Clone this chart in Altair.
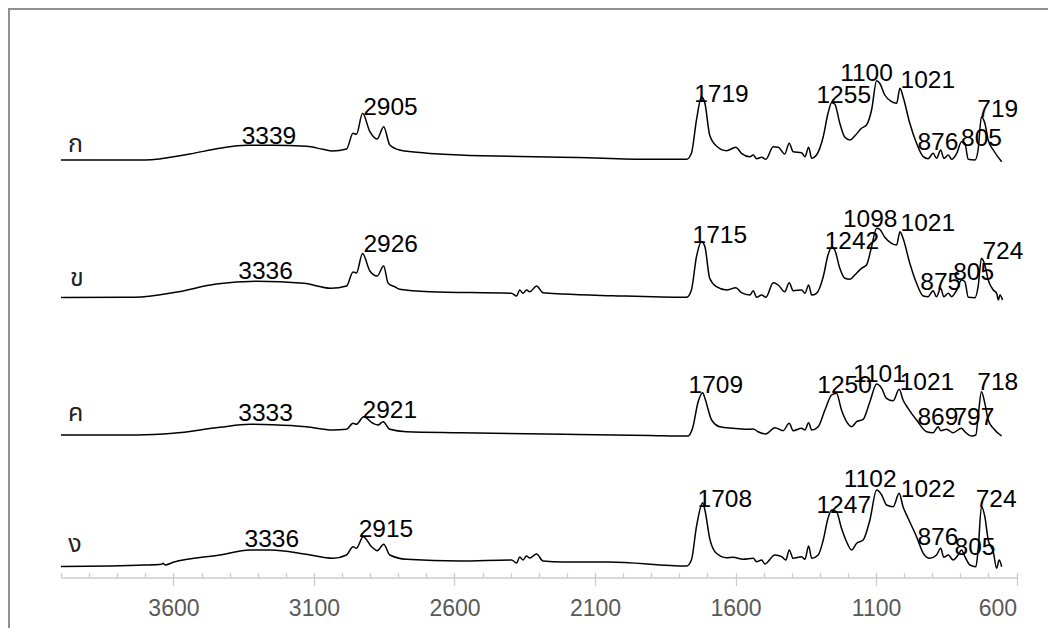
import altair as alt
import pandas as pd

# ---------------- data ----------------
samples = ["ก", "ข", "ค", "ง"]
offsets = [468, 330.5, 193, 62]          # vertical stacking offset of each spectrum

wn_a = [4000,3702,3542,3435,3340,3247,3127,3068,3034,2984,2961,2949,2927,2901,2875,2852,2830,2795,2713,2581,
        2161,1905,1774,1757,1739,1721,1709,1692,1668,1632,1599,1579,1549,1537,1525,1507,1492,1466,1448,1425,
        1409,1395,1365,1353,1340,1329,1312,1288,1271,1258,1247,1229,1211,1193,1176,1152,1134,1116,1098,1087,
        1069,1045,1027,1015,1004,980,956,932,915,897,885,870,859,843,831,813,796,784,772,748,737,725,713,701,683,653]
h_a = [0,0,6,11.7,14.7,14.7,13.7,10.7,9,11,26.7,25.7,46.7,28.3,21,33.3,15,10,7.3,5,
       2.5,0.7,0.7,6.7,40,63.3,56.7,25,14,9.3,12.7,6.7,3.3,5,1.3,2.7,0.7,13.3,12.7,6,
       16.7,8.3,7.3,3.3,12.7,1.7,5,23.3,46.7,57.3,56,36.7,22.7,20,24,31.7,35,50,79.3,76.7,
       65,58.3,56.7,71.7,63.3,36.7,16.7,3.3,1.3,6.7,1.7,10,1.7,5,0.7,6.7,18.3,16.7,0.7,0,10,43.3,36.7,20,10,-1.7]

wn_b = [4000,3738,3593,3448,3304,3136,3040,2984,2961,2949,2927,2901,2875,2852,2836,2811,2795,2688,2397,2379,
        2368,2356,2344,2332,2308,2285,2214,2036,1774,1757,1739,1721,1709,1692,1668,1632,1599,1579,1549,1537,
        1525,1507,1492,1466,1448,1425,1409,1395,1365,1353,1340,1329,1312,1288,1271,1258,1247,1229,1211,1193,
        1176,1152,1134,1116,1098,1087,1069,1045,1027,1015,1004,980,956,932,915,897,885,870,859,843,
        831,813,796,784,772,748,737,725,713,701,683,671,665,659,650]
h_b = [0,0.3,5.2,13.4,16.2,14.2,9.3,11.5,25.6,24.5,44,26.5,21.5,31.5,14.2,10.5,8.2,5.8,4.2,1.5,
       7.5,4.2,7.5,5.8,11.5,4.8,3.5,1.8,0.2,7.5,40.8,55.8,50.8,19.2,10.8,7.5,9.8,4.8,2.5,6.8,
       0.2,2.5,0.2,14.8,12.5,5.8,14.8,6.8,7.5,4.2,12.5,2.5,4.2,20.8,42.5,50.2,47.5,29.2,19.2,18.2,
       22.5,29.2,32.5,50.8,69.2,68.2,60.2,54.2,52.5,65.8,59.2,34.2,14.2,1.5,0.8,6.8,0.8,9.2,0.8,4.2,
       0.8,7.5,17.5,15.8,0.2,-0.2,10.8,39.2,32.5,17.5,7.5,4.2,-2.5,2.5,-2.5]

wn_c = [4000,3732,3601,3435,3328,3247,3127,3034,2984,2961,2949,2923,2890,2872,2854,2830,2771,2581,2161,1905,
        1769,1753,1733,1717,1709,1685,1656,1609,1561,1537,1520,1492,1460,1431,1409,1395,1365,1353,1340,1329,
        1306,1282,1258,1241,1223,1205,1187,1169,1146,1122,1098,1080,1063,1039,1018,1004,986,956,920,897,
        879,870,849,826,796,784,760,745,737,725,713,701,683,653]
h_c = [0,0,1.7,7.7,10.7,10.3,8.3,5,5.7,11.7,10.7,18.3,11.7,10,13.3,5.7,3.3,2.3,0.5,-0.5,
       -1,6.7,33.3,42.3,36.7,15,8.3,6.7,5.7,6,3.3,1,7.3,4.3,11.7,4.3,6.7,5,12.3,5,
       8.3,25,40,41.7,25,13.3,8.3,13.3,15.7,33.3,51,46.7,36.7,34.3,45.7,35,26.7,15,3.3,2.3,
       8.3,4.3,5.7,2.3,6.7,3.3,-1,0,18.3,43.3,31.7,15,6.7,-1]

wn_d = [4000,3702,3642,3637,3630,3601,3435,3328,3254,3127,3032,2984,2961,2949,2925,2895,2875,2852,2830,2771,
        2581,2397,2379,2368,2356,2344,2332,2308,2285,2214,2053,1774,1757,1739,1717,1709,1692,1668,1632,1609,
        1573,1537,1525,1507,1496,1460,1436,1421,1409,1395,1365,1353,1340,1329,1306,1288,1271,1258,1241,1223,
        1205,1187,1169,1146,1122,1098,1080,1063,1039,1018,1004,986,956,932,909,885,870,859,843,826,
        808,796,784,766,745,737,725,713,701,683,671,662,653]
h_d = [-0.5,1,1.8,2.7,1,3.7,11,16,16,11.7,7.7,11,19.3,17.7,29.3,19.3,15.3,21.7,11,6.7,
       5,6,3,9,6,10,8,12,5,4,4,0,6,39.3,63.3,56,27.7,12.7,8.3,8.7,
       6.7,7.7,4.3,6,2,11,9.3,6,16,7.7,9.3,6.7,20,7.7,11,26,47.7,56,54.3,37.7,
       24.3,16,22.7,26,46,76,71,61,59.3,72.7,59.3,47.7,29.3,12.7,7.7,11,17.7,8.7,11,6,
       11,16,9.3,1,-0.7,16,59.3,49.3,26,14.3,-2.3,6,-0.7]

# peak annotations (text, wavenumber of label centre, height of label baseline above spectrum baseline)
lab_a_text = ["3339", "2905", "1719", "1255", "1100", "1021", "876", "805", "719"]
lab_a_wn = [3260, 2828, 1650, 1215, 1134, 916, 880, 725, 667]
lab_a_h = [16, 45, 58.3, 56.7, 79.3, 71.7, 10, 14, 43.3]

lab_b_text = ["3336", "2926", "1715", "1242", "1098", "1021", "875", "805", "724"]
lab_b_wn = [3272, 2827, 1656, 1186, 1121, 916, 870, 753, 649]
lab_b_h = [18.3, 45.3, 54.8, 48.2, 70.2, 66.8, 7.5, 17.5, 38.2]

lab_c_text = ["3333", "2921", "1709", "1250", "1101", "1021", "869", "797", "718"]
lab_c_wn = [3272, 2830, 1670, 1212, 1088, 919, 880, 752, 667]
lab_c_h = [14.3, 16.7, 42.3, 41.7, 53.3, 45, 10, 10, 45]

lab_d_text = ["3336", "2915", "1708", "1247", "1102", "1022", "876", "805", "724"]
lab_d_wn = [3250, 2844, 1638, 1215, 1121, 915, 880, 748, 673]
lab_d_h = [19.3, 28.7, 59.3, 53.3, 79.3, 69.3, 21, 11, 59.3]

name_wn = [3948, 3944, 3948, 3950]
name_h = [8, 11.5, 14, 14]

major_ticks = [3600, 3100, 2600, 2100, 1600, 1100, 600]
minor_ticks = list(range(4000, 599, -100))

# ---------------- tables ----------------
spec_rows = []
for s, off, w, h in zip(samples, offsets, [wn_a, wn_b, wn_c, wn_d], [h_a, h_b, h_c, h_d]):
    spec_rows.append(pd.DataFrame({"sample": s, "wn": w, "y": [off + v for v in h]}))
spec = pd.concat(spec_rows, ignore_index=True)

lab_rows = []
for s, off, t, w, h in zip(samples, offsets,
                           [lab_a_text, lab_b_text, lab_c_text, lab_d_text],
                           [lab_a_wn, lab_b_wn, lab_c_wn, lab_d_wn],
                           [lab_a_h, lab_b_h, lab_c_h, lab_d_h]):
    lab_rows.append(pd.DataFrame({"sample": s, "label": t, "wn": w, "y": [off + v for v in h]}))
labels = pd.concat(lab_rows, ignore_index=True)

names = pd.DataFrame({"sample": samples, "wn": name_wn,
                      "y": [o + v for o, v in zip(offsets, name_h)]})
one = pd.DataFrame({"a": [0]})

# ---------------- chart ----------------
W, H = 1040, 620
xscale = alt.Scale(domain=[600, 4000], range=[1008.6, 53], nice=False, zero=False)
yscale = alt.Scale(domain=[0, H], nice=False, zero=False)

bottom_axis = alt.Axis(orient="bottom", offset=-50.5, values=major_ticks, format="d",
                       tickSize=8, tickColor="#cccccc", tickWidth=1.3,
                       domainColor="#cccccc", domainWidth=1.3,
                       labelFont="Liberation Sans", labelFontSize=23, labelColor="#595959",
                       labelPadding=12, title=None, grid=False)
top_axis = alt.Axis(orient="top", offset=-569.5, values=minor_ticks, tickSize=5,
                    tickColor="#cccccc", tickWidth=1.3, labels=False, domain=False,
                    title=None, grid=False)

lines = alt.Chart(spec).mark_line(color="black", strokeJoin="round", interpolate="monotone").encode(
    x=alt.X("wn:Q", scale=xscale, axis=bottom_axis),
    y=alt.Y("y:Q", scale=yscale, axis=None),
    detail="sample:N",
    strokeWidth=alt.StrokeWidth("sample:N", scale=alt.Scale(domain=samples, range=[1.5, 1.5, 1.5, 2.0]),
                                legend=None),
)

peaks = alt.Chart(labels).mark_text(font="Liberation Sans", fontSize=24.5, color="black",
                                    align="center", baseline="alphabetic").encode(
    x=alt.X("wn:Q", scale=xscale, axis=top_axis),
    y=alt.Y("y:Q", scale=yscale, axis=None),
    text="label:N",
)

name_marks = alt.Chart(names).mark_text(font="Noto Sans Thai, Noto Sans, DejaVu Sans, sans-serif",
                                        fontSize=25, color="#222222",
                                        align="center", baseline="alphabetic").encode(
    x=alt.X("wn:Q", scale=xscale, axis=None),
    y=alt.Y("y:Q", scale=yscale, axis=None),
    text="sample:N",
)

frame_top = alt.Chart(one).mark_rule(color="#909090", strokeWidth=2).encode(
    x=alt.value(0), x2=alt.value(W), y=alt.value(1))
frame_left = alt.Chart(one).mark_rule(color="#909090", strokeWidth=2).encode(
    x=alt.value(1), y=alt.value(0), y2=alt.value(H))

chart = alt.layer(frame_top, frame_left, lines, peaks, name_marks).resolve_axis(
    x="independent"
).properties(
    width=W, height=H, padding=0, autosize=alt.AutoSizeParams(type="none"),
    background="white",
).configure_view(stroke=None)

chart.save("out.html", embed_options={"renderer": "svg", "actions": False})
